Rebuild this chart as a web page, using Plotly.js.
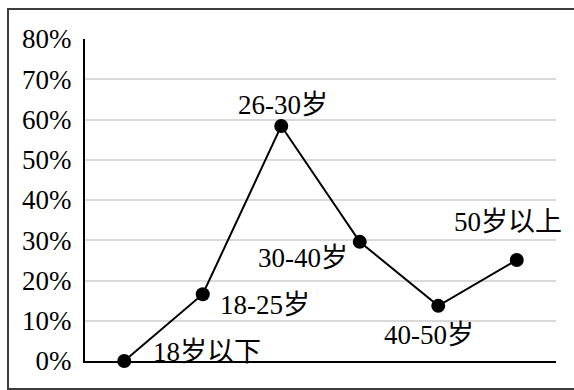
<!DOCTYPE html>
<html>
<head>
<meta charset="utf-8">
<script src="https://cdn.plot.ly/plotly-3.0.1.min.js"></script>
<style>
  html, body { margin: 0; padding: 0; width: 574px; height: 390px; overflow: hidden; background: #fff; }
  #frame { position: absolute; left: 7px; top: 8px; width: 620px; height: 378px; border: 2px solid #3c3c3c; }
  #chart { position: absolute; left: 0; top: 0; width: 574px; height: 390px; }
</style>
</head>
<body>
<div id="frame"></div>
<div id="chart"></div>
<script>
const categories = ["18岁以下", "18-25岁", "26-30岁", "30-40岁", "40-50岁", "50岁以上"];
const values = [0.0, 0.166, 0.584, 0.296, 0.137, 0.251];
const labelXAnchor = ["left", "left", "center", "right", "center", "center"];
const labelXShift = [27, 15, 2, -10, -9, -9];
const labelYShift = [9, -11, 21, -16, -29, 38];

const FONT = 'Liberation Serif, Noto Sans CJK SC, serif';

const trace = {
  x: categories,
  y: values,
  type: "scatter",
  mode: "lines+markers",
  line: { color: "#000000", width: 2 },
  marker: { color: "#000000", size: 14 },
  hoverinfo: "skip",
  cliponaxis: false
};

const annotations = categories.map((c, i) => ({
  x: c, y: values[i], xref: "x", yref: "y",
  text: c, showarrow: false,
  xanchor: labelXAnchor[i], yanchor: "middle",
  xshift: labelXShift[i], yshift: labelYShift[i],
  font: { family: FONT, size: 27, color: "#000000" }
}));

const layout = {
  width: 574, height: 390,
  margin: { l: 85, r: 18, t: 39, b: 29 },
  paper_bgcolor: "rgba(0,0,0,0)",
  plot_bgcolor: "rgba(0,0,0,0)",
  showlegend: false,
  font: { family: FONT },
  xaxis: {
    type: "category",
    range: [-0.5, 5.5],
    showticklabels: false,
    showgrid: false,
    zeroline: false,
    showline: true, linecolor: "#000000", linewidth: 2,
    ticks: "", fixedrange: true
  },
  yaxis: {
    range: [0, 0.8],
    dtick: 0.1, tick0: 0,
    tickformat: ".0%",
    showgrid: true, gridcolor: "#d9d9d9", gridwidth: 2,
    zeroline: false,
    showline: true, linecolor: "#000000", linewidth: 2,
    ticks: "", ticklabelstandoff: 6,
    tickfont: { family: FONT, size: 27, color: "#000000" },
    fixedrange: true
  },
  annotations: annotations
};

Plotly.newPlot("chart", [trace], layout, { displayModeBar: false, staticPlot: true });
</script>
</body>
</html>
